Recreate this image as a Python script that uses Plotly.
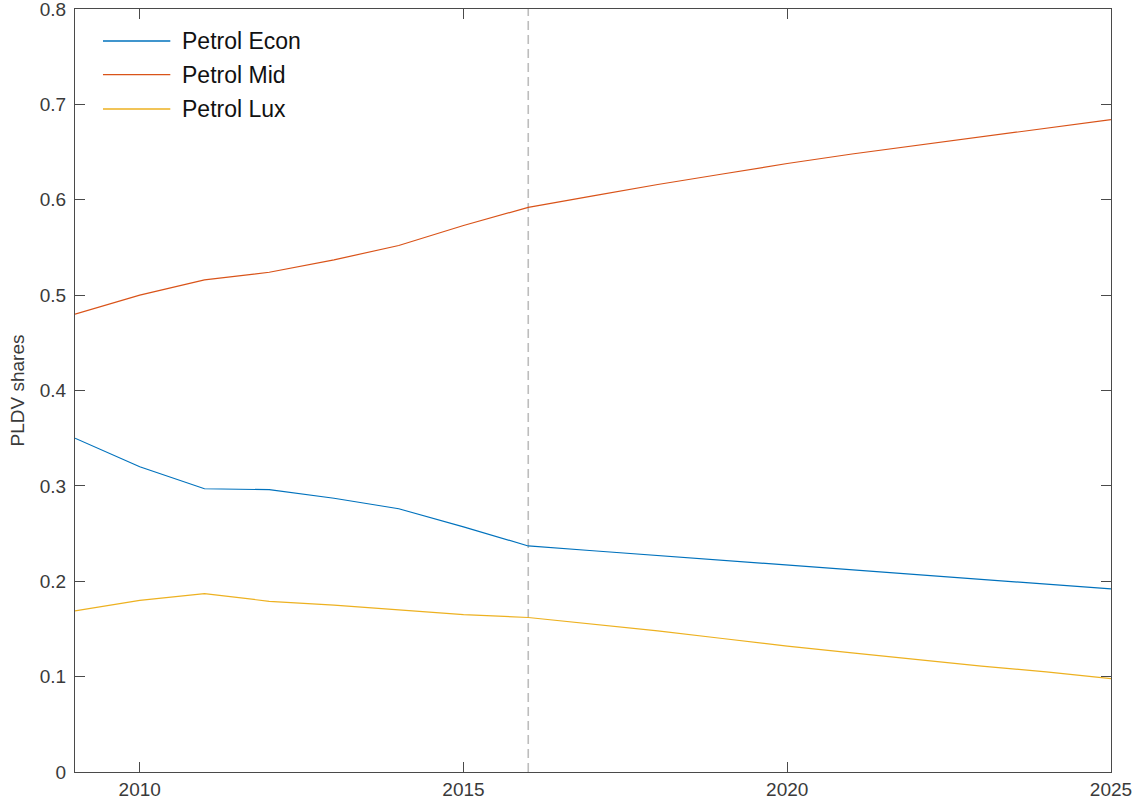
import plotly.graph_objects as go

# Model years and PLDV (passenger light-duty vehicle) shares per petrol segment
years = [2009, 2010, 2011, 2012, 2013, 2014, 2015, 2016, 2017,
         2018, 2019, 2020, 2021, 2022, 2023, 2024, 2025]
petrol_econ = [0.350, 0.320, 0.297, 0.296, 0.287, 0.276, 0.257, 0.237, 0.232,
               0.227, 0.222, 0.217, 0.212, 0.207, 0.202, 0.197, 0.192]
petrol_mid = [0.480, 0.500, 0.516, 0.524, 0.537, 0.552, 0.573, 0.592, 0.604,
              0.616, 0.627, 0.638, 0.648, 0.657, 0.666, 0.675, 0.684]
petrol_lux = [0.169, 0.180, 0.187, 0.179, 0.175, 0.170, 0.165, 0.162, 0.155,
              0.148, 0.140, 0.132, 0.125, 0.118, 0.111, 0.105, 0.098]

series_names = ["Petrol Econ", "Petrol Mid", "Petrol Lux"]
series_values = [petrol_econ, petrol_mid, petrol_lux]
series_colors = ["#0072BD", "#D95319", "#EDB120"]

x_ticks = [2010, 2015, 2020, 2025]
y_ticks = [0, 0.1, 0.2, 0.3, 0.4, 0.5, 0.6, 0.7, 0.8]
y_tick_labels = ["0", "0.1", "0.2", "0.3", "0.4", "0.5", "0.6", "0.7", "0.8"]

projection_start = 2016

FONT = "Liberation Sans, Arial, Helvetica, sans-serif"
AXIS_COLOR = "#4a4a4a"
TEXT_COLOR = "#3a3a3a"

fig = go.Figure()
for name, vals, col in zip(series_names, series_values, series_colors):
    fig.add_trace(go.Scatter(x=years, y=vals, mode="lines", name=name,
                             line=dict(color=col, width=1.2),
                             showlegend=False))

# Dashed marker where the projection begins
fig.add_shape(type="line", xref="x", yref="paper",
              x0=projection_start, x1=projection_start, y0=0, y1=1,
              line=dict(color="#bdbdbd", width=1.6, dash="9px,5px"),
              layer="below")

# Legend drawn as line keys + labels in the upper-left corner
legend_y = [0.958, 0.914, 0.869]
for name, col, ly in zip(series_names, series_colors, legend_y):
    fig.add_shape(type="line", xref="paper", yref="paper",
                  x0=0.027, x1=0.092, y0=ly, y1=ly,
                  line=dict(color=col, width=1.4))
    fig.add_annotation(xref="paper", yref="paper", x=0.101, y=ly,
                       text=name, showarrow=False, xanchor="left",
                       yanchor="middle",
                       font=dict(family=FONT, size=23, color="#111111"))

axis_common = dict(showline=True, linecolor=AXIS_COLOR, linewidth=1,
                   mirror="allticks", ticks="inside", ticklen=10,
                   tickcolor=AXIS_COLOR, tickwidth=1, showgrid=False,
                   zeroline=False, ticklabeloverflow="allow",
                   automargin=False,
                   tickfont=dict(family=FONT, size=19, color=TEXT_COLOR))

fig.update_xaxes(range=[2009, 2025], tickmode="array", tickvals=x_ticks,
                 **axis_common)
fig.update_yaxes(range=[0, 0.8], tickmode="array", tickvals=y_ticks,
                 ticktext=y_tick_labels, ticklabelstandoff=4,
                 title=dict(text="PLDV shares", standoff=10,
                            font=dict(family=FONT, size=19, color=TEXT_COLOR)),
                 **axis_common)

fig.update_layout(width=1140, height=810,
                  margin=dict(l=75, r=29, t=9, b=38),
                  plot_bgcolor="white", paper_bgcolor="white",
                  font=dict(family=FONT))

fig.write_html("out.html")
